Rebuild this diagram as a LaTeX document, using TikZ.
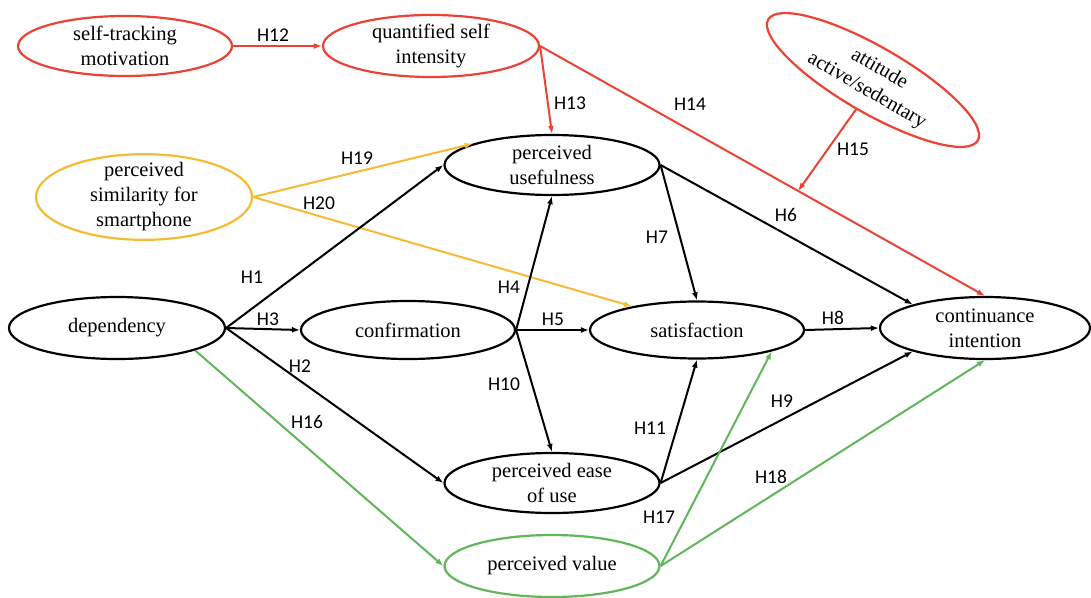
\documentclass[tikz,border=0pt]{standalone}
\usepackage{fontspec}
\setmainfont{Liberation Serif}
\newfontfamily\hypfont{Carlito}
\usetikzlibrary{shapes.geometric,arrows.meta}
\definecolor{modred}{RGB}{234,67,53}
\definecolor{simorange}{RGB}{246,187,52}
\definecolor{valgreen}{RGB}{96,182,88}
\begin{document}
\begin{tikzpicture}[x=1pt,y=-1pt,
  construct/.style={ellipse, draw, line width=2.2pt, inner sep=0pt, align=center,
    font=\fontsize{20.5}{25}\selectfont, minimum width=214pt, minimum height=60pt},
  hlink/.style={line width=2pt, -{Latex[length=8pt,width=6pt]}},
  hyp/.style={font=\hypfont\fontsize{19.5}{22}\selectfont, inner sep=0pt}]
\useasboundingbox (0,0) rectangle (1091,597);

% constructs
\node[construct, draw=modred] (stm) at (125,46) {self-tracking\\motivation};
\node[construct, draw=modred, minimum width=216pt, minimum height=62pt] (qs) at (431,46) {quantified self\\intensity};
\node[construct, draw=modred, rotate=-30, minimum width=242pt, minimum height=66pt] (att) at (873,80) {attitude\\active/sedentary};
\node[construct, draw=simorange, inner ysep=-4pt, minimum width=216pt, minimum height=84pt] (sim) at (144,197) {perceived\\similarity for\\smartphone};
\node[construct, minimum width=215pt] (pu) at (552,165) {perceived\\usefulness};
\node[construct, minimum width=216pt, minimum height=62pt] (dep) at (117,328) {dependency};
\node[construct, minimum height=58pt] (conf) at (408,330) {confirmation};
\node[construct, minimum height=57pt] (sat) at (697,330) {satisfaction};
\node[construct, minimum width=210pt, minimum height=62pt] (ci) at (985,328) {continuance\\intention};
\node[construct, minimum width=215pt] (peou) at (552,483) {perceived ease\\of use};
\node[construct, draw=valgreen, minimum width=215pt, minimum height=62pt] (pv) at (552,566) {perceived value};

% paths: self-tracking block
\draw[hlink, modred] (stm.east) -- (qs.west);
\draw[hlink, modred] (qs.east) -- (pu.north);
\draw[hlink, modred] (qs.east) -- coordinate[pos=0.58] (modpt) (ci.north);
\draw[hlink, modred] (att.south) -- (modpt);

% paths: similarity
\draw[hlink, simorange] (sim.east) -- (pu.165);
\draw[hlink, simorange] (sim.east) -- (sat.160);

% paths: core model
\draw[hlink] (dep.east) -- (pu.west);
\draw[hlink] (dep.east) -- (conf.west);
\draw[hlink] (dep.east) -- (peou.west);
\draw[hlink] (conf.east) -- (pu.south);
\draw[hlink] (conf.east) -- (sat.west);
\draw[hlink] (conf.east) -- (peou.north);
\draw[hlink] (pu.east) -- (sat.north);
\draw[hlink] (pu.east) -- (ci.162);
\draw[hlink] (sat.east) -- (ci.west);
\draw[hlink] (peou.east) -- (sat.south);
\draw[hlink] (peou.east) -- (ci.198);

% paths: perceived value
\draw[hlink, valgreen] (dep.-16) -- (pv.west);
\draw[hlink, valgreen] (pv.east) -- (sat.-16);
\draw[hlink, valgreen] (pv.east) -- (ci.south);

% hypothesis labels
\node[hyp] (h1) at (252,277) {H1};
\node[hyp] (h2) at (300,366) {H2};
\node[hyp] (h3) at (268,319) {H3};
\node[hyp] (h4) at (509,287) {H4};
\node[hyp] (h5) at (553,319) {H5};
\node[hyp] (h6) at (786,215) {H6};
\node[hyp] (h7) at (657,237) {H7};
\node[hyp] (h8) at (833,318) {H8};
\node[hyp] (h9) at (782,401) {H9};
\node[hyp] (h10) at (504,384) {H10};
\node[hyp] (h11) at (650,428) {H11};
\node[hyp] (h12) at (273,35) {H12};
\node[hyp] (h13) at (570,103) {H13};
\node[hyp] (h14) at (690,104) {H14};
\node[hyp] (h15) at (853,149) {H15};
\node[hyp] (h16) at (307,422) {H16};
\node[hyp] (h17) at (659,517) {H17};
\node[hyp] (h18) at (771,477) {H18};
\node[hyp] (h19) at (357,158) {H19};
\node[hyp] (h20) at (319,203) {H20};
\end{tikzpicture}
\end{document}
